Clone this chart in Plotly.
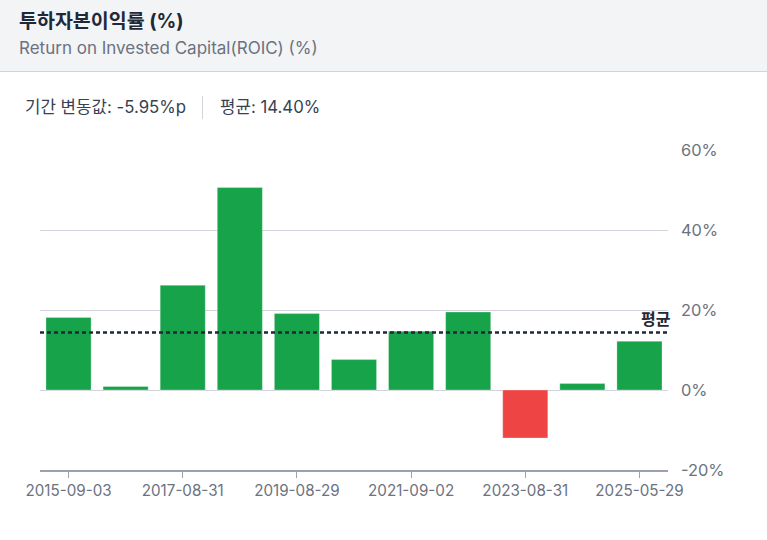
import plotly.graph_objects as go

# ---- data ----
dates = ["2015-09-03", "2016-09-01", "2017-08-31", "2018-08-30", "2019-08-29",
         "2020-09-03", "2021-09-02", "2022-09-01", "2023-08-31", "2024-08-29",
         "2025-05-29"]
roic = [18.15, 0.9, 26.2, 50.6, 19.1, 7.6, 14.7, 19.5, -12.0, 1.6, 12.2]
tick_dates = ["2015-09-03", "2017-08-31", "2019-08-29", "2021-09-02",
              "2023-08-31", "2025-05-29"]
y_ticks = [-20, 0, 20, 40, 60]
avg_value = 14.40
change_value = -5.95

title_text = "투하자본이익률 (%)"
subtitle_text = "Return on Invested Capital(ROIC) (%)"
change_label = "기간 변동값: {:.2f}%p".format(change_value)
avg_label = "평균: {:.2f}%".format(avg_value)
avg_line_label = "평균"

# ---- layout geometry (pixels) ----
W, H = 767, 540
L, R, T, B = 40, 99, 150, 70
PW, PH = W - L - R, H - T - B

def px(x):
    return (x - L) / PW

def py(y):
    return (H - B - y) / PH

FONT = "Inter, 'Noto Sans CJK KR', 'Noto Sans', sans-serif"
GREEN = "#16a34a"
RED = "#ef4444"

colors = [GREEN if v >= 0 else RED for v in roic]

fig = go.Figure()
fig.add_trace(go.Bar(
    x=dates, y=roic,
    marker=dict(color=colors, line=dict(color="rgba(255,255,255,0.3)", width=1)),
    hoverinfo="skip",
))

shapes = [
    # header background
    dict(type="rect", xref="paper", yref="paper", x0=px(0), x1=px(W), y0=py(71), y1=py(0),
         fillcolor="#f3f4f6", line=dict(width=0), layer="below"),
    dict(type="line", xref="paper", yref="paper", x0=px(0), x1=px(W), y0=py(71.5), y1=py(71.5),
         line=dict(color="#d1d5db", width=1)),
    # separator in stats line
    dict(type="line", xref="paper", yref="paper", x0=px(202.5), x1=px(202.5), y0=py(96), y1=py(119),
         line=dict(color="#d1d5db", width=1)),
    # average line
    dict(type="line", xref="paper", yref="y", x0=0, x1=1, y0=avg_value, y1=avg_value,
         line=dict(color="#1f2937", width=2.5, dash="4px,3px"), layer="above"),
]

annotations = [
    dict(text="<b>" + title_text + "</b>", xref="paper", yref="paper", x=px(17), y=py(21),
         xanchor="left", yanchor="middle", showarrow=False,
         font=dict(family=FONT, size=19.5, color="#1f2937")),
    dict(text=subtitle_text, xref="paper", yref="paper", x=px(17), y=py(48),
         xanchor="left", yanchor="middle", showarrow=False,
         font=dict(family=FONT, size=17, color="#6b7280")),
    dict(text=change_label, xref="paper", yref="paper", x=px(23), y=py(107),
         xanchor="left", yanchor="middle", showarrow=False,
         font=dict(family=FONT, size=16.8, color="#374151")),
    dict(text=avg_label, xref="paper", yref="paper", x=px(218), y=py(107),
         xanchor="left", yanchor="middle", showarrow=False,
         font=dict(family=FONT, size=16.8, color="#374151")),
    dict(text="<b>" + avg_line_label + "</b>", xref="paper", yref="y", x=1, y=avg_value,
         xanchor="right", yanchor="bottom", xshift=5, yshift=1, showarrow=False,
         font=dict(family=FONT, size=16, color="#1f2937")),
]

fig.update_layout(
    width=W, height=H,
    margin=dict(l=L, r=R, t=T, b=B, pad=0),
    paper_bgcolor="white", plot_bgcolor="white",
    showlegend=False,
    bargap=0.21,
    shapes=shapes,
    annotations=annotations,
    font=dict(family=FONT),
    xaxis=dict(
        type="category", range=[-0.5, len(dates) - 0.5],
        tickmode="array", tickvals=tick_dates, ticktext=tick_dates,
        showgrid=False, showline=True, linecolor="#9ca3af", linewidth=2,
        ticks="outside", ticklen=6, tickcolor="#9ca3af", tickwidth=1,
        tickfont=dict(family=FONT, size=15.2, color="#6b7280"),
        fixedrange=True,
    ),
    yaxis=dict(
        side="right", range=[-20, 60], tickmode="array", tickvals=y_ticks,
        ticktext=[f"{v}%" for v in y_ticks],
        showgrid=True, gridcolor="#d1d5db", gridwidth=1,
        zeroline=True, zerolinecolor="#d1d5db", zerolinewidth=1,
        showline=False, ticks="", ticklabelstandoff=12,
        tickfont=dict(family=FONT, size=16.4, color="#6b7280"),
        fixedrange=True,
    ),
)

fig.write_html("out.html")
